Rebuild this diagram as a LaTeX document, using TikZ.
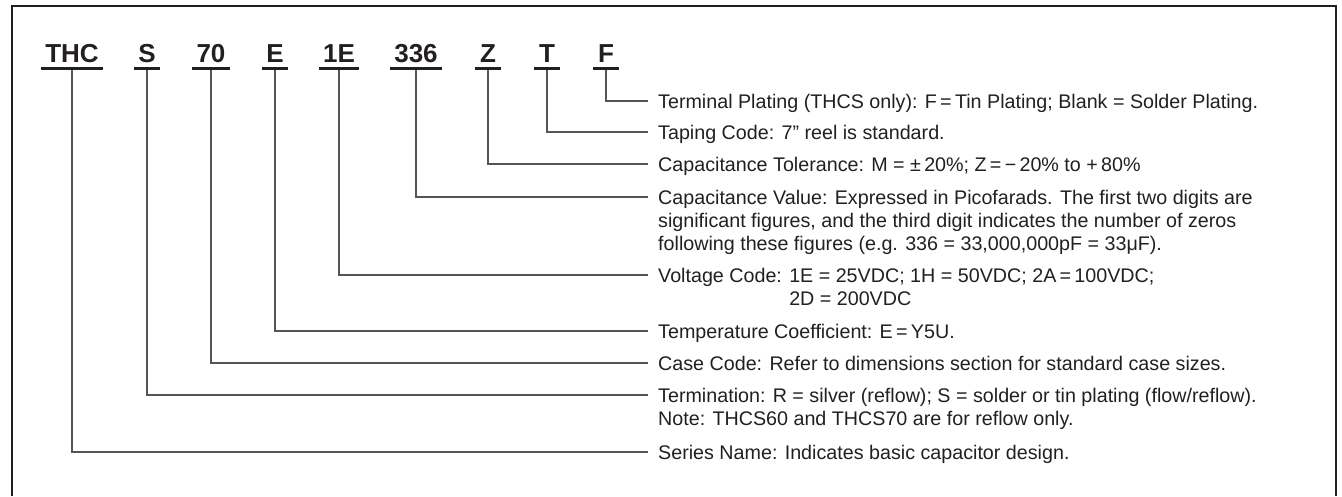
\documentclass[tikz,border=0pt]{standalone}
\usepackage{fontspec}
\setmainfont{Liberation Sans}
\definecolor{ink}{HTML}{231F20}
\definecolor{leadgray}{HTML}{555555}
\tikzset{
  code/.style={font=\fontsize{26}{26}\selectfont\bfseries, text=ink, anchor=base,
    inner xsep=4pt, inner ysep=6pt, text depth=0pt, minimum width=26pt},
  uline/.style={draw=ink, line width=2.6pt},
  leader/.style={draw=leadgray, line width=1.3pt},
  desc/.style={font=\fontsize{19.7}{23}\selectfont, text=ink, anchor=base west,
    inner xsep=0pt, inner ysep=0pt},
  descfirst/.style={desc, inner xsep=10pt, text height=14.1pt, text depth=0pt},
  frame/.style={draw=ink, line width=2.2pt}
}
\begin{document}
\begin{tikzpicture}[x=1pt, y=-1pt]
\useasboundingbox (0,0) rectangle (1342,496);
\draw[frame] (12,496) -- (12,6) -- (1336,6) -- (1336,496);

% code letters
\node[code] (cTHC) at (72,62) {THC};
\node[code] (cS) at (147,62) {S};
\node[code] (c70) at (211,62) {70};
\node[code] (cE) at (275,62) {E};
\node[code] (c1E) at (339,62) {1E};
\node[code] (c336) at (416,62) {336};
\node[code] (cZ) at (488,62) {Z};
\node[code] (cT) at (547,62) {T};
\node[code] (cF) at (606,62) {F};

% descriptions
\node[descfirst] (dF) at (648,108) {Terminal Plating (THCS only): F\,=\,Tin Plating; Blank = Solder Plating.};
\node[descfirst] (dT) at (648,139) {Taping Code: 7” reel is standard.};
\node[descfirst] (dZ) at (648,171) {Capacitance Tolerance: M = ±\,20\%; Z\,=\,−\,20\% to +\,80\%};
\node[descfirst] (d336) at (648,204) {Capacitance Value: Expressed in Picofarads. The first two digits are};
\node[desc] (d336b) at (658,227) {significant figures, and the third digit indicates the number of zeros};
\node[desc] (d336c) at (658,250) {following these figures (e.g. 336 = 33,000,000pF = 33μF).};
\node[descfirst] (d1E) at (648,282) {Voltage Code: 1E = 25VDC; 1H = 50VDC; 2A\,=\,100VDC;};
\node[desc] (d1Eb) at (658,305) {\phantom{Voltage Code: }2D = 200VDC};
\node[descfirst] (dE) at (648,338) {Temperature Coefficient: E\,=\,Y5U.};
\node[descfirst] (d70) at (648,370) {Case Code: Refer to dimensions section for standard case sizes.};
\node[descfirst] (dS) at (648,402) {Termination: R = silver (reflow); S = solder or tin plating (flow/reflow).};
\node[desc] (dSb) at (658,425) {Note: THCS60 and THCS70 are for reflow only.};
\node[descfirst] (dTHC) at (648,459) {Series Name: Indicates basic capacitor design.};

% leaders
\draw[leader] (cF.south) |- (dF.west);
\draw[leader] (cT.south) |- (dT.west);
\draw[leader] (cZ.south) |- (dZ.west);
\draw[leader] (c336.south) |- (d336.west);
\draw[leader] (c1E.south) |- (d1E.west);
\draw[leader] (cE.south) |- (dE.west);
\draw[leader] (c70.south) |- (d70.west);
\draw[leader] (cS.south) |- (dS.west);
\draw[leader] (cTHC.south) |- (dTHC.west);

% underlines
\foreach \c in {cTHC,cS,c70,cE,c1E,c336,cZ,cT,cF}
  \draw[uline] (\c.south west) -- (\c.south east);
\end{tikzpicture}
\end{document}
